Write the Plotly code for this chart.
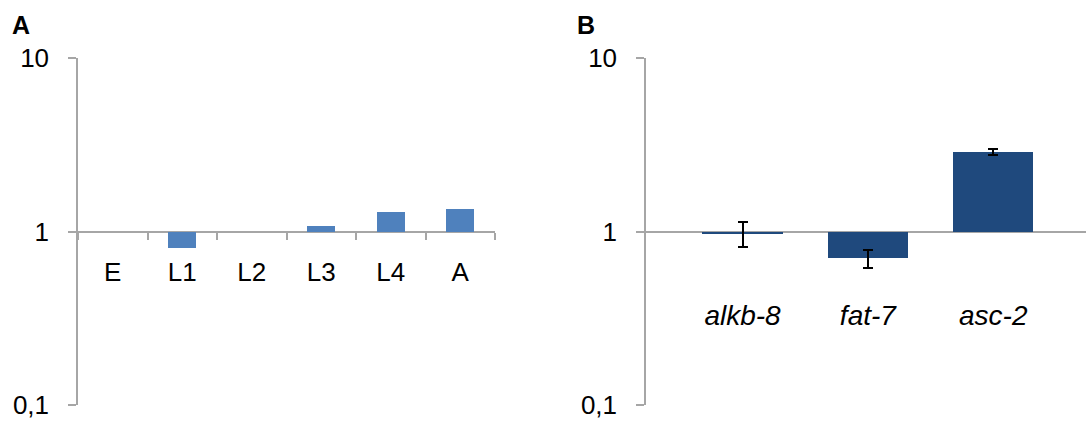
import plotly.graph_objects as go

# ---- data ----
stages = ["E", "L1", "L2", "L3", "L4", "A"]
stage_values = [1.0, 0.80, 1.0, 1.07, 1.29, 1.35]

genes = ["alkb-8", "fat-7", "asc-2"]
gene_labels = ["<i>alkb-8</i>", "<i>fat-7</i>", "<i>asc-2</i>"]
gene_values = [0.97, 0.70, 2.87]
gene_errors = [0.16, 0.083, 0.115]

y_tickvals = [0.1, 1, 10]
y_ticktext = ["0,1", "1", "10"]

reference_level = 1.0

# ---- style ----
W, H = 1086, 421
FONT = "Liberation Sans, Arial, sans-serif"
GRID = "#a6a6a6"
BLUE_A = "#4F81BD"
BLUE_B = "#1F497D"

def px_x(p):
    return p / W

def px_y(p):
    return 1 - p / H

y_top, y_bot = 58, 405
ydom = [px_y(y_bot), px_y(y_top)]
ymid = (ydom[0] + ydom[1]) / 2

fig = go.Figure()

fig.add_trace(go.Bar(
    x=stages,
    y=[v - reference_level for v in stage_values],
    base=reference_level,
    marker=dict(color=BLUE_A, line=dict(width=0)),
    width=0.4,
    xaxis="x", yaxis="y",
    showlegend=False,
))

fig.add_trace(go.Bar(
    x=genes,
    y=[v - reference_level for v in gene_values],
    base=reference_level,
    marker=dict(color=BLUE_B, line=dict(width=0)),
    width=0.64,
    error_y=dict(type="data", array=gene_errors, visible=True,
                 color="black", thickness=2, width=5),
    xaxis="x2", yaxis="y2",
    showlegend=False,
))

yaxis_common = dict(
    type="log", range=[-1, 1],
    tickvals=y_tickvals, ticktext=y_ticktext,
    showgrid=True, gridcolor=GRID, gridwidth=1.5,
    showline=True, linecolor=GRID, linewidth=1.5,
    ticks="outside", ticklen=8, tickcolor=GRID, tickwidth=1.5,
    tickfont=dict(family=FONT, size=26, color="black"),
    ticklabelstandoff=14,
    zeroline=False, automargin=False,
    domain=ydom,
)

fig.update_layout(
    width=W, height=H, autosize=False,
    margin=dict(l=0, r=0, t=0, b=0, pad=0),
    paper_bgcolor="white", plot_bgcolor="white",
    bargap=0,
    xaxis=dict(
        domain=[px_x(78), px_x(495)],
        type="category", range=[-0.5, 5.5],
        anchor="free", position=ymid,
        showgrid=False, showline=False, zeroline=False,
        ticks="outside", tickson="boundaries", ticklen=7,
        tickcolor=GRID, tickwidth=1.5,
        tickfont=dict(family=FONT, size=26, color="black"),
        ticklabelstandoff=22, automargin=False,
    ),
    yaxis=dict(anchor="x", **yaxis_common),
    xaxis2=dict(
        domain=[px_x(646), 1.0],
        type="category", range=[-0.77, 2.74],
        anchor="free", position=ymid,
        showgrid=False, showline=False, zeroline=False,
        ticks="", tickmode="array", tickvals=genes, ticktext=gene_labels,
        tickfont=dict(family=FONT, size=28, color="black"),
        ticklabelstandoff=64, automargin=False,
    ),
    yaxis2=dict(anchor="x2", **yaxis_common),
    annotations=[
        dict(text="<b>A</b>", x=px_x(21), y=px_y(25), xref="paper", yref="paper",
             xanchor="center", yanchor="middle",
             showarrow=False, font=dict(family=FONT, size=25, color="black")),
        dict(text="<b>B</b>", x=px_x(586), y=px_y(25), xref="paper", yref="paper",
             xanchor="center", yanchor="middle",
             showarrow=False, font=dict(family=FONT, size=25, color="black")),
    ],
)

fig.write_html("out.html", config={"displayModeBar": False},
               post_script="document.body.style.margin='0';")
